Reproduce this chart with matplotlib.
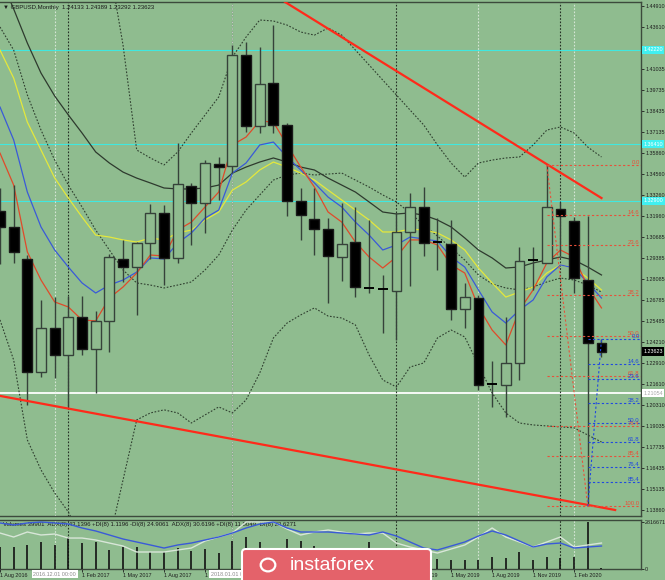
import numpy as np
import pandas as pd
import matplotlib
matplotlib.use('Agg')
import matplotlib.pyplot as plt
from matplotlib.patches import Rectangle, FancyBboxPatch, Circle

plt.rcParams['font.family'] = ['Liberation Sans', 'DejaVu Sans']

# monthly bars Aug 2016 .. Apr 2020
months = pd.date_range('2016-08-01', '2020-04-01', freq='MS')

opens = [1.3228, 1.3130, 1.2930, 1.2236, 1.2508, 1.2341, 1.2575, 1.2378, 1.2551, 1.2933,
         1.2883, 1.3031, 1.3216, 1.2939, 1.3380, 1.3278, 1.3518, 1.3505, 1.4189, 1.3752,
         1.4017, 1.3758, 1.3290, 1.3179, 1.3117, 1.2945, 1.3037, 1.2760, 1.2754, 1.2736,
         1.3099, 1.3253, 1.3031, 1.3025, 1.2625, 1.2692, 1.2156, 1.2156, 1.2292, 1.2930,
         1.2908, 1.3241, 1.3167, 1.2803, 1.24133]
highs = [1.3370, 1.3388, 1.2960, 1.2680, 1.2700, 1.2705, 1.2705, 1.2612, 1.2965, 1.3050,
         1.3040, 1.3271, 1.3265, 1.3647, 1.3400, 1.3542, 1.3561, 1.4250, 1.4269, 1.4238,
         1.4374, 1.3770, 1.3370, 1.3370, 1.3185, 1.3277, 1.3253, 1.3173, 1.2834, 1.3216,
         1.3339, 1.3376, 1.3185, 1.3173, 1.2785, 1.2708, 1.2304, 1.2575, 1.3006, 1.3006,
         1.3512, 1.3285, 1.3191, 1.3200, 1.24389]
lows = [1.2900, 1.2908, 1.2033, 1.2206, 1.2200, 1.2015, 1.2340, 1.2107, 1.2360, 1.2791,
        1.2588, 1.2930, 1.2772, 1.2908, 1.3019, 1.3093, 1.3296, 1.3460, 1.3712, 1.3709,
        1.3709, 1.3197, 1.3050, 1.2957, 1.2661, 1.2797, 1.2698, 1.2723, 1.2477, 1.2434,
        1.2766, 1.2950, 1.2865, 1.2557, 1.2508, 1.2126, 1.2021, 1.1959, 1.2187, 1.2742,
        1.2905, 1.2955, 1.2723, 1.1409, 1.23292]
closes = [1.3130, 1.2976, 1.2236, 1.2508, 1.2341, 1.2575, 1.2378, 1.2551, 1.2945, 1.2883,
          1.3031, 1.3216, 1.2939, 1.3395, 1.3278, 1.3524, 1.3500, 1.4189, 1.3752, 1.4011,
          1.3758, 1.3290, 1.3204, 1.3117, 1.2951, 1.3025, 1.2760, 1.2754, 1.2748, 1.3099,
          1.3253, 1.3031, 1.3035, 1.2625, 1.2699, 1.2156, 1.2160, 1.2292, 1.2920, 1.2924,
          1.3253, 1.3197, 1.2816, 1.2415, 1.23623]

# indicator lines
ma_red = [1.3585, 1.3388, 1.2976, 1.2803, 1.2668, 1.2637, 1.2557, 1.2551, 1.2692, 1.2760,
          1.2846, 1.2957, 1.2951, 1.3111, 1.3160, 1.3253, 1.3345, 1.3635, 1.3684, 1.3783,
          1.3776, 1.3635, 1.3499, 1.3376, 1.3222, 1.3160, 1.3037, 1.2945, 1.2877, 1.2945,
          1.3050, 1.3050, 1.3019, 1.2896, 1.2846, 1.2637, 1.2495, 1.2403, 1.2618, 1.2742,
          1.2908, 1.2988, 1.2945, 1.2760, 1.2631]
ma_blue = [1.3869, 1.3666, 1.3345, 1.3130, 1.2988, 1.2883, 1.2785, 1.2723, 1.2772, 1.2803,
           1.2852, 1.2939, 1.2933, 1.3031, 1.3093, 1.3185, 1.3234, 1.3462, 1.3524, 1.3635,
           1.3653, 1.3561, 1.3481, 1.3401, 1.3314, 1.3253, 1.3160, 1.3080, 1.2988, 1.3019,
           1.3068, 1.3056, 1.3043, 1.2945, 1.2883, 1.2742, 1.2606, 1.2538, 1.2618, 1.2680,
           1.2822, 1.2896, 1.2877, 1.2785, 1.2692]
ma_yellow = [1.4220, 1.4047, 1.3776, 1.3604, 1.3432, 1.3308, 1.3191, 1.3080, 1.3068, 1.3050,
             1.3037, 1.3062, 1.3050, 1.3093, 1.3111, 1.3173, 1.3222, 1.3357, 1.3407, 1.3481,
             1.3530, 1.3499, 1.3462, 1.3419, 1.3357, 1.3296, 1.3234, 1.3173, 1.3099, 1.3099,
             1.3117, 1.3111, 1.3093, 1.3050, 1.2988, 1.2877, 1.2785, 1.2698, 1.2729, 1.2760,
             1.2846, 1.2896, 1.2877, 1.2815, 1.2742]
ma_dark = [1.4670, 1.4473, 1.4263, 1.4078, 1.3937, 1.3820, 1.3709, 1.3592, 1.3524, 1.3468,
           1.3431, 1.3401, 1.3370, 1.3364, 1.3364, 1.3370, 1.3388, 1.3462, 1.3499, 1.3530,
           1.3555, 1.3530, 1.3499, 1.3481, 1.3431, 1.3388, 1.3345, 1.3284, 1.3222, 1.3210,
           1.3216, 1.3203, 1.3173, 1.3130, 1.3062, 1.2988, 1.2939, 1.2877, 1.2883, 1.2908,
           1.2926, 1.2945, 1.2926, 1.2883, 1.2834]
band_up = [np.nan] * 8 + [1.4742, 1.4251, 1.3604, 1.3555, 1.3512, 1.3592, 1.3709, 1.3820,
                          1.3931, 1.4177, 1.4300, 1.4405, 1.4399, 1.4374, 1.4331, 1.4312,
                          1.4356, 1.4312, 1.4220, 1.4128, 1.4035, 1.3943, 1.3850, 1.3758,
                          1.3635, 1.3524, 1.3437, 1.3524, 1.3542, 1.3555, 1.3561, 1.3635,
                          1.3727, 1.3746, 1.3709, 1.3622, 1.3561]
band_mid = [1.4362, 1.4220, 1.3943, 1.3727, 1.3542, 1.3388, 1.3253, 1.3111, 1.2988, 1.2865,
            1.2785, 1.2772, 1.2754, 1.2772, 1.2791, 1.2865, 1.2957, 1.3111, 1.3234, 1.3327,
            1.3419, 1.3450, 1.3462, 1.3450, 1.3456, 1.3462, 1.3419, 1.3376, 1.3327, 1.3284,
            1.3216, 1.3142, 1.3074, 1.3000, 1.2926, 1.2834, 1.2779, 1.2754, 1.2742, 1.2760,
            1.2791, 1.2815, 1.2803, 1.2772, 1.2729]
band_lo = [1.2557, 1.2310, 1.1818, 1.1633, 1.1491, 1.1374, 1.1200, 1.1100, 1.1200, 1.1571,
           1.1941, 1.1984, 1.2003, 1.1984, 1.1922, 1.1972, 1.2021, 1.1984, 1.2064, 1.2230,
           1.2446, 1.2538, 1.2588, 1.2631, 1.2581, 1.2569, 1.2526, 1.2341, 1.2187, 1.2144,
           1.2267, 1.2292, 1.2446, 1.2495, 1.2452, 1.2280, 1.2107, 1.1984, 1.1922, 1.1910,
           1.1904, 1.1898, 1.1892, 1.1848, 1.1805]

volumes = [1318000, 1318000, 1438000, 1618000, 1438000, 1918000, 1558000, 1618000, 1139000, 1318000,
           1318000, 1019000, 1019000, 1258000, 1079000, 1199000, 959000, 1678000, 1918000, 1618000,
           1019000, 1798000, 1678000, 1378000, 1019000, 1019000, 1079000, 1618000, 1019000, 959000,
           1139000, 959000, 599000, 539000, 539000, 539000, 719000, 659000, 1019000, 539000,
           719000, 659000, 719000, 2816671, 39901]
adx_blue = [93.9, 89.8, 93.9, 95.9, 93.9, 91.8, 83.7, 77.6, 69.4, 61.2, 55.1, 49.0, 42.8, 49.0, 53.0,
            59.2, 65.3, 73.4, 83.7, 91.8, 95.9, 83.7, 75.5, 75.5, 75.5, 73.4, 71.4, 69.4, 75.5, 67.3,
            55.1, 42.8, 38.8, 46.9, 55.1, 67.3, 77.6, 69.4, 57.1, 44.9, 51.0, 53.0, 42.8, 44.9, 46.9]
adx_light = [73.4, 65.3, 75.5, 69.4, 71.4, 63.2, 63.2, 59.2, 53.0, 46.9, 34.7, 34.7, 34.7, 38.8, 42.8,
             57.1, 65.3, 73.4, 95.9, 95.9, 95.9, 81.6, 69.4, 75.5, 79.6, 75.5, 71.4, 73.4, 73.4, 53.0,
             44.9, 38.8, 32.6, 40.8, 49.0, 65.3, 83.7, 65.3, 55.1, 44.9, 55.1, 65.3, 44.9, 49.0, 53.0]

price_ticks = [1.44910, 1.43610, 1.41035, 1.39735, 1.38435, 1.37135, 1.35860, 1.34560, 1.33260,
               1.31960, 1.30685, 1.29385, 1.28085, 1.26785, 1.25485, 1.24210, 1.22910, 1.21610,
               1.20310, 1.19035, 1.17735, 1.16435, 1.15135, 1.13860]
cyan_levels = [1.42220, 1.36410, 1.32900]
white_level = 1.21054
fib_levels = [0.0, 14.6, 23.6, 38.2, 50.0, 61.8, 76.4, 85.4, 100.0]
trend_top_x, trend_top_y = [20.85, 44.0], [1.4516, 1.3308]
trend_bot_x, trend_bot_y = [0.0, 45.0], [1.2089, 1.1386]

BG = '#8fbc8f'
SMALL = 4.3
AXF = 3.9
n = len(closes)
x = np.arange(n)

fig = plt.figure(figsize=(6.65, 5.8), dpi=100, facecolor=BG)
ax = fig.add_axes([0, 1 - 516 / 580, 641 / 665, 514 / 580], facecolor=BG)
axv = fig.add_axes([0, 1 - 569 / 580, 641 / 665, 49 / 580], facecolor=BG)
adx = axv.twinx()

xmax = 641 / 13.67
for a in (ax, axv):
    a.set_xlim(0, xmax)
    a.spines['left'].set_visible(False)
    for s in ('right', 'top', 'bottom'):
        a.spines[s].set_color('#3c4a3c')
        a.spines[s].set_linewidth(1.0)
ax.set_ylim(1.1349, 1.4516)

# horizontal levels
for lv in cyan_levels:
    ax.axhline(lv, color='#40e8e0', lw=0.8, zorder=1)
ax.axhline(white_level, color='white', lw=1.3, zorder=1)

# separators
for b in (5, 17, 29, 41):
    for a in (ax, axv):
        a.axvline(b, color='#253025', lw=0.8, ls=(0, (1.5, 1.5)), zorder=1)
for b in (4, 17, 35, 42):
    for a in (ax, axv):
        a.axvline(b, color='#e8f0e8', lw=0.8, ls=(0, (1.5, 1.5)), zorder=1, alpha=0.8)

# bands and averages
ax.plot(x, band_up, color='#2f3f2f', lw=0.8, ls=(0, (1.5, 1.5)), zorder=2)
ax.plot(x, band_lo, color='#2f3f2f', lw=0.8, ls=(0, (1.5, 1.5)), zorder=2)
ax.plot(x, band_mid, color='#2f3f2f', lw=0.8, ls=(0, (1.5, 1.5)), zorder=2)
ax.plot(x, ma_dark, color='#2e3a2e', lw=0.9, zorder=2)
ax.plot(x, ma_yellow, color='#e4e83c', lw=0.9, zorder=2)
ax.plot(x, ma_blue, color='#3a5ad8', lw=0.9, zorder=2)
ax.plot(x, ma_red, color='#e04a2a', lw=0.9, zorder=2)

# candles
w = 0.72
for i in range(n):
    o, h, l, c = opens[i], highs[i], lows[i], closes[i]
    ax.vlines(i, l, h, color='#36423a', lw=1.0, zorder=3)
    if abs(c - o) < 0.0008:
        ax.hlines(c, i - w / 2, i + w / 2, color='black', lw=1.4, zorder=4)
    elif c > o:
        ax.add_patch(Rectangle((i - w / 2, o), w, c - o, fc=BG, ec='#36423a', lw=1.0, zorder=4))
    else:
        ax.add_patch(Rectangle((i - w / 2, c), w, o - c, fc='black', ec='#1a1a1a', lw=1.0, zorder=4))

# trend lines
ax.plot(trend_top_x, trend_top_y, color='#ff2a1a', lw=1.6, zorder=5)
ax.plot(trend_bot_x, trend_bot_y, color='#ff2a1a', lw=1.6, zorder=5)

# fibonacci: Dec 2019 high -> Mar 2020 low (red), Mar 2020 low -> Apr 2020 high (blue)
fhi, flo, bhi = highs[40], lows[43], highs[44]
for f in fib_levels:
    lv = fhi - (fhi - flo) * f / 100
    ax.hlines(lv, 40, xmax, color='#e8503a', lw=0.8, ls=(0, (2, 2)), zorder=5)
    ax.text(xmax - 0.1, lv, f'{f:.1f}', color='#e8503a', fontsize=SMALL, ha='right', va='bottom', zorder=6)
ax.plot([40, 43], [fhi, flo], color='#e8503a', lw=0.8, ls=(0, (2, 2)), zorder=5)
for f in fib_levels[:-1]:
    lv = bhi - (bhi - flo) * f / 100
    ax.hlines(lv, 43, xmax, color='#2048e0', lw=0.8, ls=(0, (2, 2)), zorder=5)
    ax.text(xmax - 0.1, lv, f'{f:.1f}', color='#2048e0', fontsize=SMALL, ha='right', va='bottom', zorder=6)
ax.plot([43, 44], [flo, bhi], color='#2048e0', lw=0.8, ls=(0, (2, 2)), zorder=5)

# price axis
ax.yaxis.tick_right()
ax.set_yticks(price_ticks)
ax.set_yticklabels([f'{t:.5f}' for t in price_ticks])
ax.tick_params(axis='y', length=2, width=0.6, pad=1, labelsize=AXF, colors='#1e1e1e')
ax.set_xticks([])


def axis_box(val, text, fc, tc):
    ax.text(1.0035, val, text, transform=ax.get_yaxis_transform(), fontsize=AXF, color=tc,
            ha='left', va='center', zorder=10,
            bbox=dict(boxstyle='square,pad=0.3', fc=fc, ec='none'))


for lv in cyan_levels:
    axis_box(lv, f'{lv:.5f}', '#40f0f0', 'white')
axis_box(white_level, f'{white_level:.5f}', 'white', '#a8a8a8')
axis_box(closes[-1], f'{closes[-1]:.5f}', 'black', 'white')

fig.text(3 / 665, 1 - 7 / 580, '\u25bc GBPUSD,Monthly  1.24133 1.24389 1.23292 1.23623',
         fontsize=SMALL, color='#1a1a1a', va='center')

# volume / adx window
vtop = 2816671 * 49 / 47
axv.vlines(x, 0, volumes, color='#111111', lw=1.2, zorder=3)
axv.set_ylim(0, vtop)
axv.yaxis.tick_right()
axv.yaxis.set_label_position('right')
axv.set_yticks([0, 2816671])
axv.set_yticklabels(['0', '2816671'])
axv.tick_params(axis='y', left=False, labelleft=False, right=True, labelright=True,
                length=2, width=0.6, pad=1, labelsize=AXF, colors='#1e1e1e')
adx.set_ylim(0, 100)
adx.set_xlim(0, xmax)
adx.axis('off')
adx.plot(x, adx_light, color='#d8e6d8', lw=1.0)
adx.plot(x, adx_blue, color='#3a5ad8', lw=1.0)
axv.text(0.004, 0.95, 'Volumes 39901  ADX(8) 43.1396 +DI(8) 1.1196 -DI(8) 24.9061  '
         'ADX(8) 30.6196 +DI(8) 11.8049 -DI(8) 23.6271', transform=axv.transAxes,
         fontsize=SMALL, color='#1a1a1a', va='top', zorder=6)

tick_idx = list(range(0, n, 3))
axv.set_xticks(tick_idx)
axv.set_xticklabels([f'1 {months[i].strftime("%b %Y")}' for i in tick_idx], ha='left')
axv.tick_params(axis='x', length=2, width=0.6, pad=1, labelsize=AXF, colors='#1e1e1e')

# vertical line labels
for b in (4, 17):
    fig.text((b * 13.67) / 665, 1 - 574 / 580, months[b].strftime('%Y.%m.%d 00:00'),
             fontsize=AXF, color='#8a8a8a', ha='center', va='center',
             bbox=dict(boxstyle='square,pad=0.3', fc='white', ec='none'), zorder=8)

# logo
logo = FancyBboxPatch((242 / 665, -0.02), 189 / 665, 0.02 + 31 / 580,
                      boxstyle='round,pad=0,rounding_size=0.006', transform=fig.transFigure,
                      fc='#e4626a', ec='white', lw=1.5, zorder=9)
fig.patches.append(logo)
fig.patches.append(Circle((268 / 665, 1 - 565 / 580), 0.011, transform=fig.transFigure,
                          fc='none', ec='white', lw=1.6, zorder=10))
fig.text(332 / 665, 1 - 566 / 580, 'instaforex', fontsize=14, color='white',
         ha='center', va='center', zorder=11)

fig.savefig('out.png', dpi=100, facecolor=BG)
